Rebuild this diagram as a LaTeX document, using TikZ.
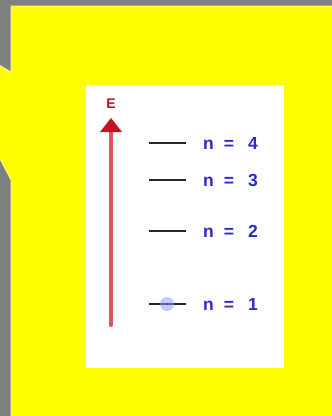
\documentclass[tikz,border=0pt]{standalone}
\usepackage{fontspec}
\setmainfont{Liberation Sans}
\usetikzlibrary{positioning}

\definecolor{bgyellow}{RGB}{255,255,0}
\definecolor{framegray}{RGB}{128,128,128}
\definecolor{levelblue}{RGB}{42,42,200}
\definecolor{axisred}{RGB}{222,84,94}
\definecolor{tipred}{RGB}{196,18,30}

\begin{document}
\begin{tikzpicture}[x=1pt, y=-1pt,
  level/.style={line width=2.4pt, black!85},
  levellabel/.style={anchor=west, inner sep=0pt, text=levelblue,
    font=\bfseries\fontsize{17.5}{17.5}\selectfont},
  electron/.style={circle, inner sep=0pt, minimum size=14pt,
    fill=blue!40, fill opacity=0.55}]
  % frame and yellow panel
  \useasboundingbox (0,0) rectangle (332,416);
  \fill[framegray] (0,0) rectangle (332,416);
  \fill[bgyellow, draw=yellow!40!white, line width=0.8pt]
    (11,6) -- (333,6) -- (333,417) -- (11,417) -- (11,180)
    -- (-1,157) -- (-1,65) -- (11,72) -- cycle;
  \fill[white] (86,85) rectangle (284,368);

  % energy axis
  \coordinate (axisbot) at (111,325);
  \coordinate (axistop) at (111,132);
  \coordinate (tip) at (111,118);
  \draw[axisred, line width=4pt, line cap=round] (axisbot) -- (axistop);
  \fill[tipred] (tip) -- ([xshift=11pt]axistop) -- ([xshift=-11pt]axistop) -- cycle;
  \node[text=tipred, font=\bfseries\fontsize{14}{14}\selectfont] (elabel) at (111,104) {E};

  % levels
  \foreach \n/\y in {4/143, 3/180, 2/231, 1/304} {
    \coordinate (lvlL\n) at (149,\y);
    \coordinate (lvlR\n) at (186,\y);
    \draw[level] (lvlL\n) -- (lvlR\n);
    \node[levellabel] (lab\n) at (203,\y) {n\hspace{10pt}=\hspace{14pt}\n};
  }

  % electron on ground level
  \node[electron] (e) at (167,304) {};
  \fill[black!70] (e.center) circle (1pt);
\end{tikzpicture}
\end{document}
